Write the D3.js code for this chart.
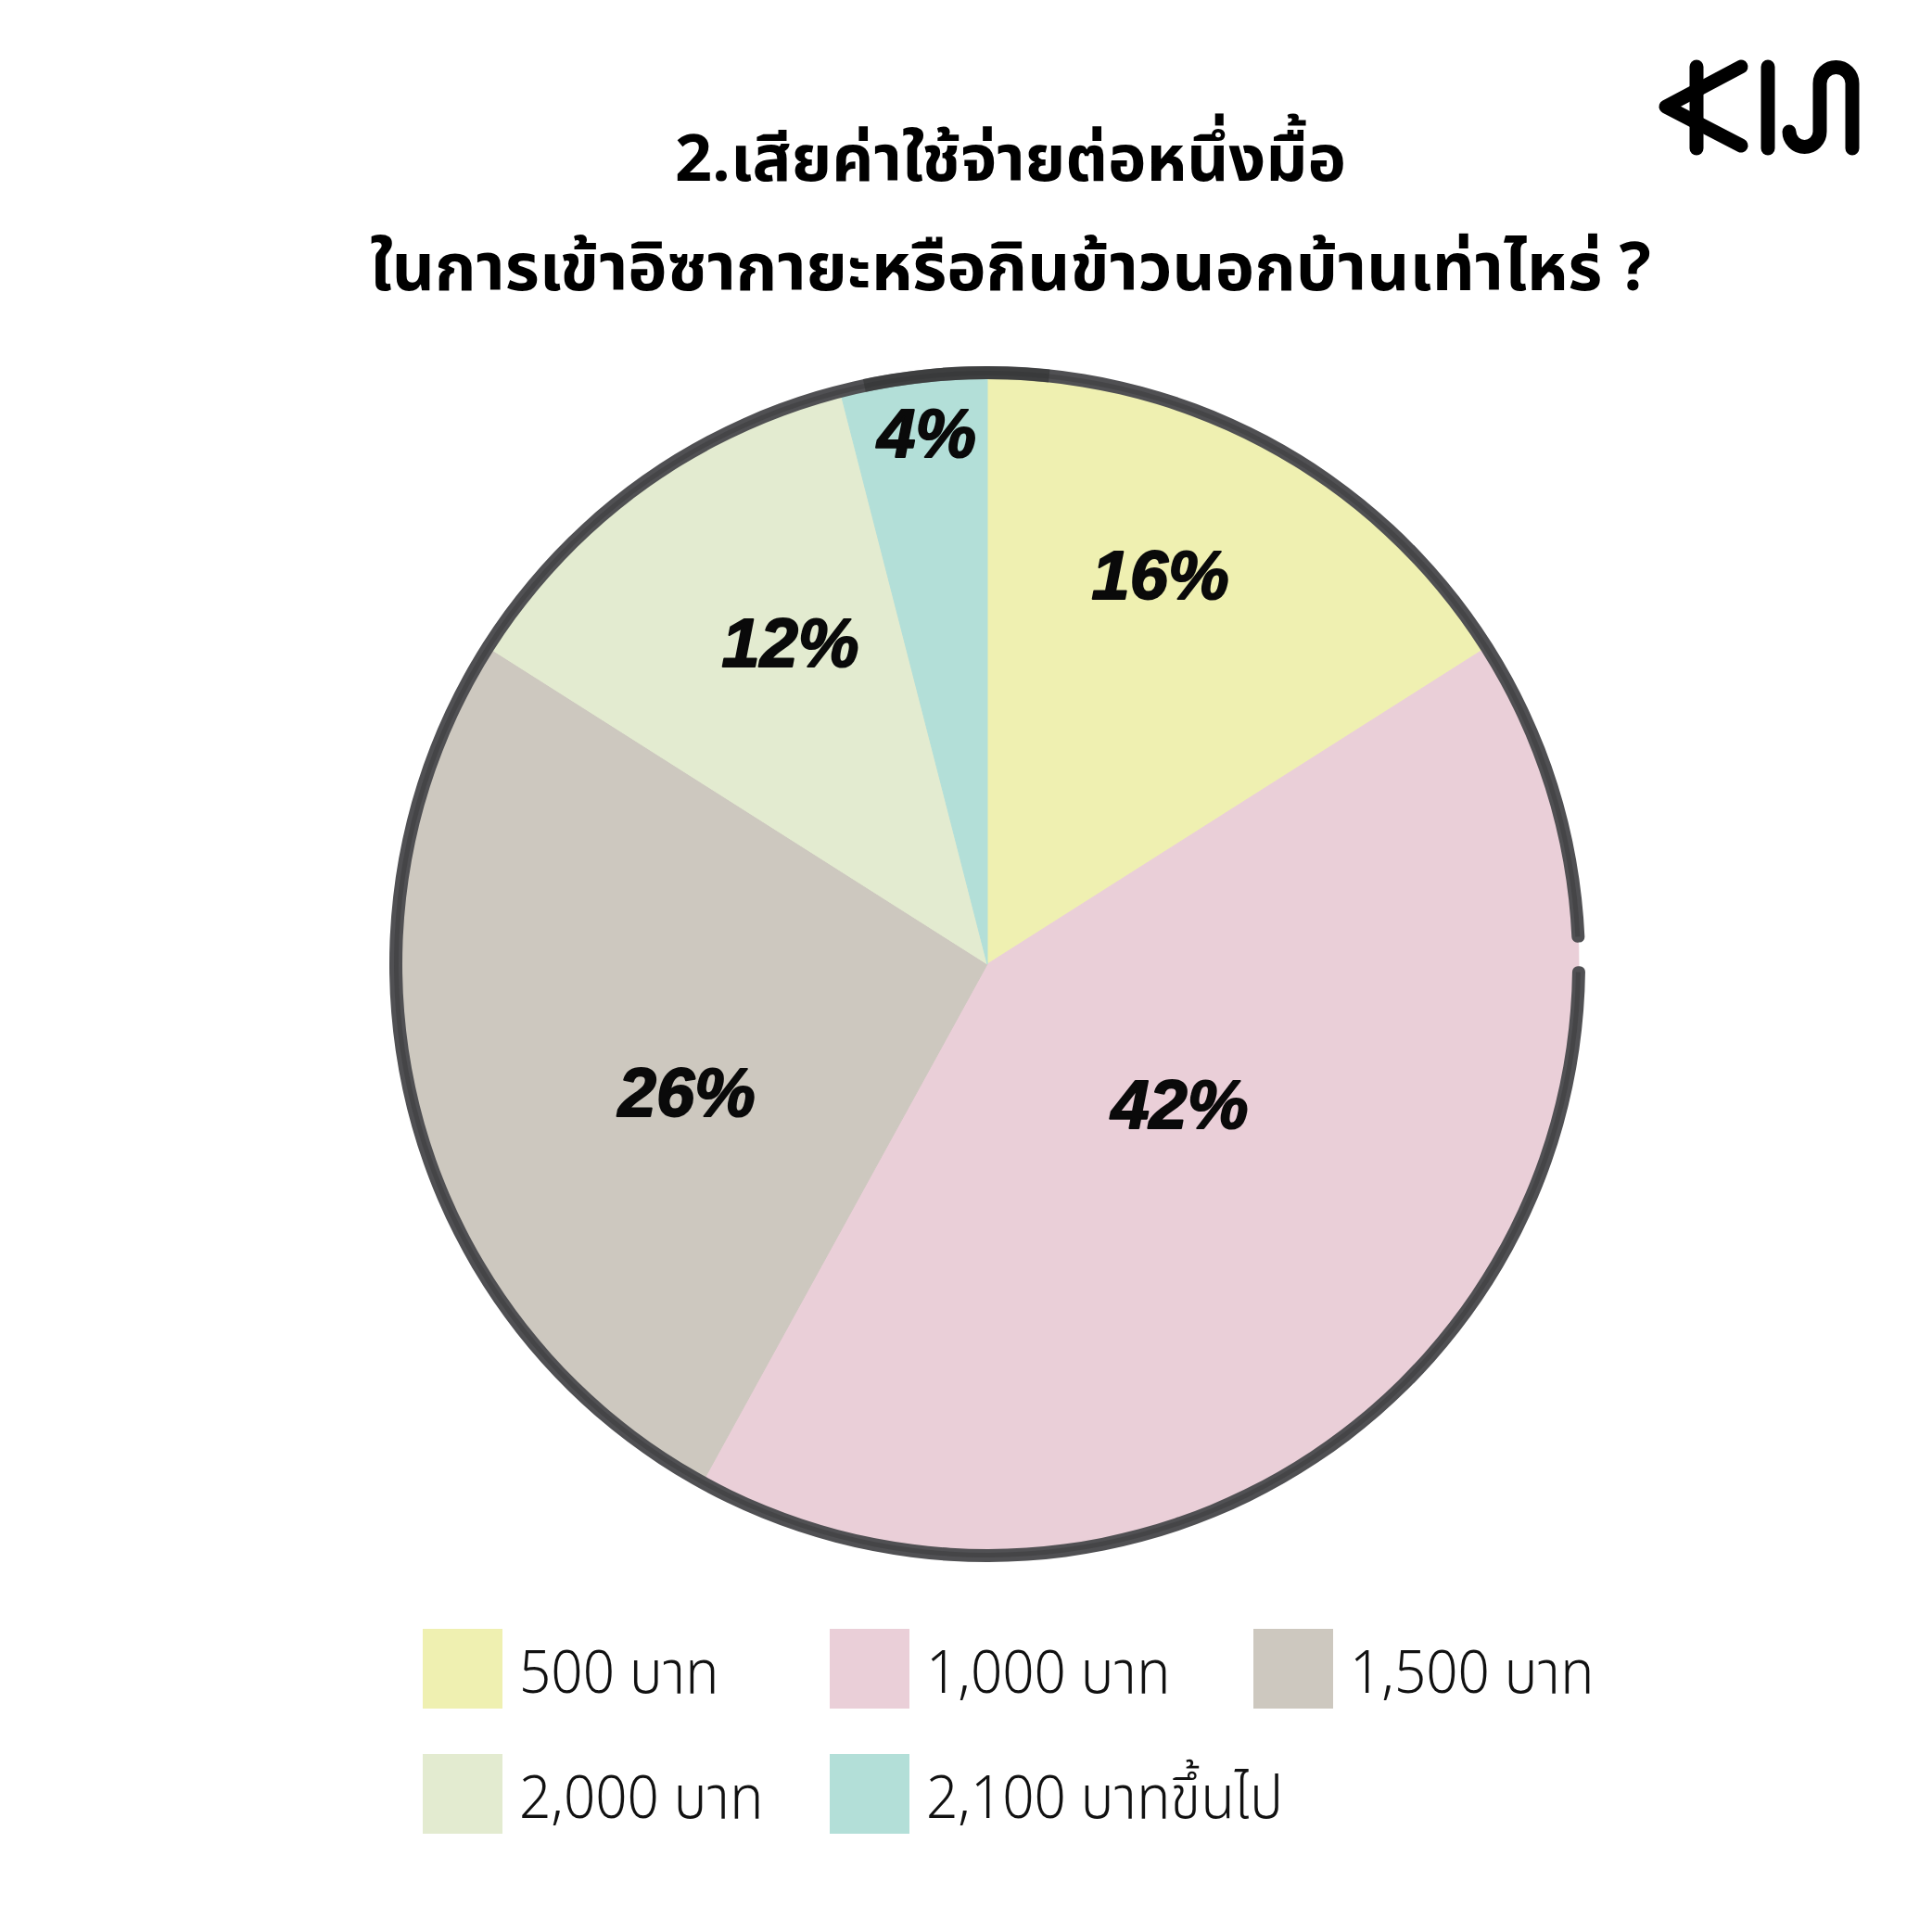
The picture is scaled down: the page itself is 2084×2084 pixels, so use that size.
<!DOCTYPE html>
<html>
<head>
<meta charset="utf-8">
<script src="https://cdn.jsdelivr.net/npm/d3@7/dist/d3.min.js"></script>
<style>
  html, body { margin: 0; padding: 0; background: #ffffff; }
  svg { display: block; }
</style>
</head>
<body>
<script>
// ---- data ----
const categories = ["500 บาท", "1,000 บาท", "1,500 บาท", "2,000 บาท", "2,100 บาทขึ้นไป"];
const shares = [16, 42, 26, 12, 4];
const sliceLabels = ["16%", "42%", "26%", "12%", "4%"];
const titleLines = ["2.เสียค่าใช้จ่ายต่อหนึ่งมื้อ", "ในการเข้าอิซากายะหรือกินข้าวนอกบ้านเท่าไหร่ ?"];

// ---- styles / layout ----
const colors = ["#eff0b1", "#eacfd8", "#cdc8bf", "#e3ebd0", "#b3dfd8"];
const W = 2084, H = 2084;
const cx = 1065, cy = 1040, R = 638;
const labelRadius = [0.722, 0.402, 0.552, 0.639, 0.905];
const labelAngleShift = [-4.9, -7.2, -8.6, 4.6, 0.7]; // degrees
const thaiFont = "'Noto Sans Thai', 'Noto Sans Thai UI', 'Noto Sans', 'DejaVu Sans', sans-serif";

const svg = d3.select("body").append("svg")
  .attr("width", W).attr("height", H).attr("viewBox", `0 0 ${W} ${H}`);

svg.append("rect").attr("width", W).attr("height", H).attr("fill", "#ffffff");

// ---- title ----
const title = svg.append("g").attr("font-family", thaiFont).attr("font-weight", 700)
  .attr("fill", "#000").attr("text-anchor", "middle");
title.selectAll("text").data(titleLines).join("text")
  .attr("x", 1090)
  .attr("y", (d, i) => i === 0 ? 195 : 313)
  .attr("font-size", (d, i) => i === 0 ? 70 : 71.5)
  .text(d => d);

// ---- logo ----
const logo = svg.append("g").attr("fill", "none").attr("stroke", "#000")
  .attr("stroke-width", 15).attr("stroke-linecap", "round").attr("stroke-linejoin", "round");
logo.append("path").attr("d", "M1830,72 V160");
logo.append("path").attr("d", "M1878,72 L1797,115 L1878,157");
logo.append("path").attr("d", "M1907,72 V160");
logo.append("path").attr("d", "M1930,142 A16.5,16.5 0 0 0 1963,142 V90 A17.5,17.5 0 0 1 1998,90 V160");

// ---- pie ----
const pie = d3.pie().sort(null).value(d => d);
const arcs = pie(shares);
const arc = d3.arc().innerRadius(0).outerRadius(R);
const g = svg.append("g").attr("transform", `translate(${cx},${cy})`);

g.selectAll("path.slice").data(arcs).join("path")
  .attr("class", "slice")
  .attr("d", arc)
  .attr("fill", (d, i) => colors[i])
  .attr("stroke", (d, i) => colors[i])
  .attr("stroke-width", 1);

// hand-drawn style outline with a small break on the right
const deg = Math.PI / 180;
const a0 = 90.2 * deg, a1 = (360 + 87.9) * deg;
g.append("path")
  .attr("d", d3.arc().innerRadius(R - 7).outerRadius(R + 7).cornerRadius(6)({ startAngle: a0, endAngle: a1 }))
  .attr("fill", "#505053");
g.append("path")
  .attr("d", d3.arc().innerRadius(R - 3).outerRadius(R + 2)({ startAngle: a0 + 0.01, endAngle: a1 - 0.01 }))
  .attr("fill", "#3c3c3e").attr("opacity", 0.55);
// darker pass across the top
g.append("path")
  .attr("d", d3.arc().innerRadius(R - 7).outerRadius(R + 7)({ startAngle: -12 * deg, endAngle: 6 * deg }))
  .attr("fill", "#2f3232").attr("opacity", 0.55);

// slice labels
const labelArc = d3.arc();
g.selectAll("text.pct").data(arcs).join("text")
  .attr("class", "pct")
  .attr("transform", (d, i) => {
    const a = (d.startAngle + d.endAngle) / 2 + labelAngleShift[i] * deg;
    const r = R * labelRadius[i];
    const c = labelArc.innerRadius(r).outerRadius(r).centroid({ startAngle: a, endAngle: a });
    return `translate(${c[0]},${c[1]})`;
  })
  .attr("text-anchor", "middle")
  .attr("dy", "0.36em")
  .attr("font-family", "'Liberation Sans Narrow', 'Liberation Sans', sans-serif")
  .attr("font-weight", 700)
  .attr("font-style", "italic")
  .attr("font-size", 74)
  .attr("fill", "#0a0a0a")
  .attr("stroke", "#0a0a0a").attr("stroke-width", 2).attr("stroke-linejoin", "round")
  .text((d, i) => sliceLabels[i]);

// ---- legend ----
const colX = [456, 895, 1352];
const rowY = [1757, 1892];
const sw = 86;
const legend = svg.append("g");
const items = legend.selectAll("g").data(categories).join("g")
  .attr("transform", (d, i) => `translate(${colX[i % 3]},${rowY[Math.floor(i / 3)]})`);
items.append("rect").attr("width", sw).attr("height", sw).attr("fill", (d, i) => colors[i]);
items.append("text")
  .attr("transform", "translate(104,69) scale(0.94,1)")
  .attr("font-family", thaiFont)
  .attr("font-weight", 300)
  .attr("font-size", 64)
  .attr("fill", "#111")
  .text(d => d);
</script>
</body>
</html>
